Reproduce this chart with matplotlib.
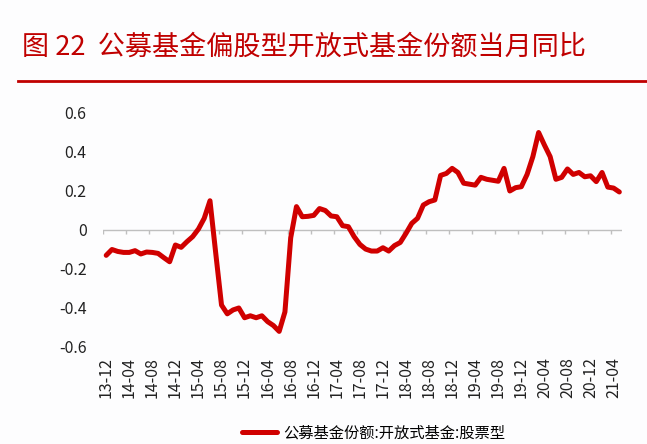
import matplotlib
matplotlib.use("Agg")
import matplotlib.pyplot as plt
import numpy as np

plt.rcParams["font.family"] = ["Noto Sans CJK SC", "DejaVu Sans"]
plt.rcParams["axes.unicode_minus"] = False

TITLE = "图 22  公募基金偏股型开放式基金份额当月同比"
SERIES_NAME = "公募基金份额:开放式基金:股票型"

# monthly, 2013-12 .. 2021-05
MONTHS = [f"{y % 100:02d}-{m:02d}"
          for y in range(2013, 2022) for m in range(1, 13)
          if (y, m) >= (2013, 12) and (y, m) <= (2021, 5)]

YOY = [
    -0.13, -0.10, -0.11, -0.115, -0.115, -0.106, -0.123, -0.113, -0.115, -0.12,
    -0.142, -0.163, -0.077, -0.089, -0.06, -0.034, 0.005, 0.06, 0.15, -0.12,
    -0.385, -0.43, -0.41, -0.40, -0.45, -0.44, -0.45, -0.44, -0.47, -0.49,
    -0.52, -0.42, -0.04, 0.12, 0.068, 0.07, 0.075, 0.11, 0.10, 0.072,
    0.068, 0.022, 0.017, -0.034, -0.074, -0.098, -0.108, -0.108, -0.091, -0.108,
    -0.08, -0.064, -0.017, 0.034, 0.06, 0.128, 0.145, 0.154, 0.28, 0.29,
    0.316, 0.295, 0.24, 0.235, 0.23, 0.27, 0.26, 0.255, 0.25, 0.316,
    0.20, 0.217, 0.222, 0.285, 0.376, 0.50, 0.436, 0.376, 0.26, 0.27,
    0.313, 0.285, 0.295, 0.273, 0.278, 0.248, 0.295, 0.22, 0.215, 0.195,
]

Y_TICKS = [0.6, 0.4, 0.2, 0, -0.2, -0.4, -0.6]
Y_TICK_LABELS = ["0.6", "0.4", "0.2", "0", "-0.2", "-0.4", "-0.6"]
LABEL_EVERY = 4

LINE_RED = "#D00000"
TITLE_RED = "#C00000"
BG = "#FDFDFE"

fig = plt.figure(figsize=(6.47, 4.44), dpi=100, facecolor=BG)
ax = fig.add_axes([0.1597, 0.2185, 0.802, 0.527], facecolor=BG)

x = np.arange(len(YOY))
ax.plot(x, YOY, color=LINE_RED, lw=3.6, solid_capstyle="round",
        solid_joinstyle="round", label=SERIES_NAME, zorder=3)

ax.set_xlim(-0.5, len(YOY) - 0.5)
ax.set_ylim(-0.6, 0.6)

# category axis at zero, tick marks between category groups
ax.axhline(0, color="#BFBFBF", lw=1.0, zorder=1)
bounds = np.arange(-0.5, len(YOY), LABEL_EVERY)
ax.vlines(bounds, -0.022, 0, color="#BFBFBF", lw=1.0, zorder=1)

for s in ax.spines.values():
    s.set_visible(False)

ax.set_yticks(Y_TICKS)
ax.set_yticklabels(Y_TICK_LABELS)
ax.tick_params(axis="y", length=0, pad=12, labelsize=11.5, colors="#222222")

lab_pos = x[::LABEL_EVERY]
ax.set_xticks(lab_pos)
ax.set_xticklabels([MONTHS[i] for i in lab_pos], rotation=90)
ax.tick_params(axis="x", length=0, pad=7, labelsize=11.5, colors="#222222")

fig.text(0.034, 0.894, TITLE, color=TITLE_RED, fontsize=19.5,
         ha="left", va="center")
fig.add_artist(plt.Line2D([0.028, 1.0], [0.817, 0.817],
                          transform=fig.transFigure, color=TITLE_RED, lw=2))

ax.legend(loc="lower center", bbox_to_anchor=(0.578, -0.012),
          bbox_transform=fig.transFigure, frameon=False, fontsize=11,
          handlelength=2.3, handletextpad=0.4, borderaxespad=0.1)

fig.savefig("out.png", dpi=100, facecolor=BG)
